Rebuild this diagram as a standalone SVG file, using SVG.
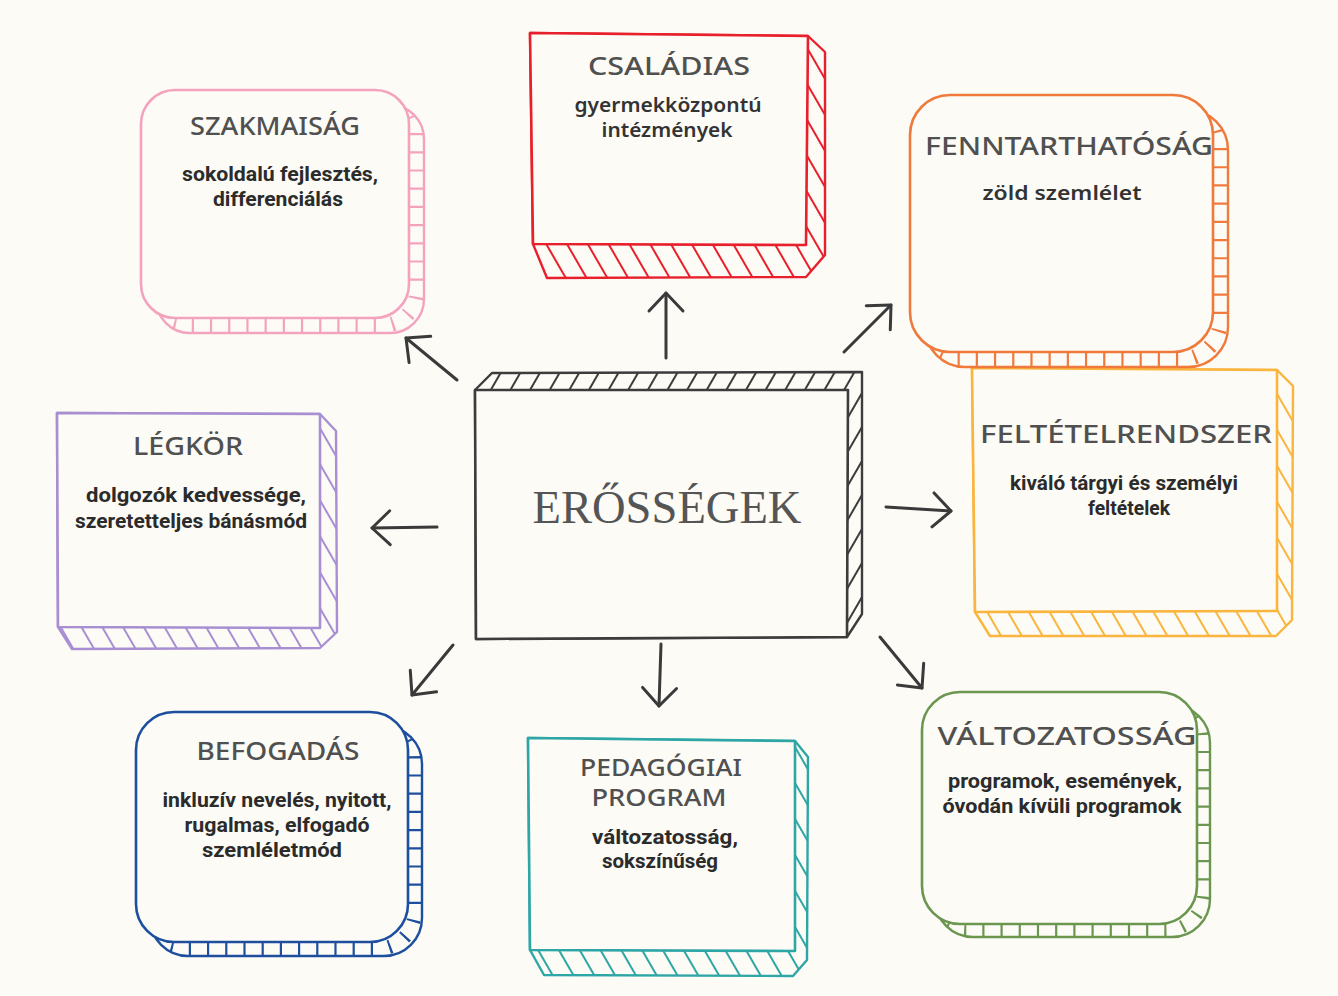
<svg xmlns="http://www.w3.org/2000/svg" width="1338" height="996" viewBox="0 0 1338 996">
<style>
.title{font-family:'Noto Sans','DejaVu Sans',sans-serif;font-weight:500;fill:#505050;font-size:26px;text-anchor:middle}
.title2{font-size:23px}
.sub{font-family:Roboto,'Liberation Sans',sans-serif;font-weight:700;fill:#2b2b2b;font-size:20px;text-anchor:middle}
.subr{font-family:'Noto Sans','DejaVu Sans',sans-serif;font-weight:600;fill:#333;font-size:19px;text-anchor:middle}
.face{fill:#fcfbf6;stroke-width:2.6;stroke-linejoin:round}
.back{fill:#fcfbf6;stroke-width:2.4;stroke-linejoin:round}
.rung{fill:none;stroke-dasharray:2.2 16}
.side{stroke-width:2.4;stroke-linejoin:round}
.arrow{fill:none;stroke:#3a3a3a;stroke-width:3;stroke-linecap:round;marker-end:url(#ah)}
.center{font-family:'Liberation Serif','Times New Roman',serif;font-size:46px;fill:#555;text-anchor:middle}
</style>
<defs>
<marker id="ah" viewBox="-22 -20 26 40" markerWidth="26" markerHeight="40" refX="0" refY="0" orient="auto" markerUnits="userSpaceOnUse">
<path d="M-18,-17 L0,0 L-18,17" fill="none" stroke="#3a3a3a" stroke-width="3" stroke-linecap="round" stroke-linejoin="round"/>
</marker>
<pattern id="hRed" patternUnits="userSpaceOnUse" width="18" height="18" patternTransform="rotate(-30)"><line x1="9" y1="-1" x2="9" y2="19" stroke="#e8202c" stroke-width="2"/></pattern>
<pattern id="hPurple" patternUnits="userSpaceOnUse" width="18" height="18" patternTransform="rotate(-30)"><line x1="9" y1="-1" x2="9" y2="19" stroke="#a88fd2" stroke-width="2"/></pattern>
<pattern id="hYellow" patternUnits="userSpaceOnUse" width="18" height="18" patternTransform="rotate(-30)"><line x1="9" y1="-1" x2="9" y2="19" stroke="#f9b53d" stroke-width="2"/></pattern>
<pattern id="hTeal" patternUnits="userSpaceOnUse" width="18" height="18" patternTransform="rotate(-30)"><line x1="9" y1="-1" x2="9" y2="19" stroke="#2fa6a6" stroke-width="2"/></pattern>
<pattern id="hDark" patternUnits="userSpaceOnUse" width="17" height="17" patternTransform="rotate(30)"><line x1="8" y1="-1" x2="8" y2="18" stroke="#3c3c3c" stroke-width="2"/></pattern>
<clipPath id="cPink"><rect x="156" y="105" width="268" height="228" rx="34"/><rect x="141" y="90" width="268" height="228" rx="34"/></clipPath>
<clipPath id="cOrange"><rect x="925" y="110" width="303" height="257" rx="40"/><rect x="910" y="95" width="303" height="257" rx="40"/></clipPath>
<clipPath id="cBlue"><rect x="150" y="726" width="272" height="230" rx="38"/><rect x="136" y="712" width="272" height="230" rx="38"/></clipPath>
<clipPath id="cGreen"><rect x="935" y="705" width="275" height="232" rx="38"/><rect x="922" y="692" width="275" height="232" rx="38"/></clipPath>
</defs>
<rect width="1338" height="996" fill="#fcfbf6"/>

<g id="connectors">
<path class="arrow" d="M666,358 L666,293"/>
<path class="arrow" d="M844,352 L891,305"/>
<path class="arrow" d="M457,380 L406,338"/>
<path class="arrow" d="M886,507 L951,511"/>
<path class="arrow" d="M437,527 L372,528"/>
<path class="arrow" d="M453,645 L412,695"/>
<path class="arrow" d="M661,644 L659,706"/>
<path class="arrow" d="M880,637 L922,688"/>
</g>

<g id="node-szakmaisag" stroke="#f4a3bf">
<rect class="back" x="156" y="105" width="268" height="228" rx="34"/>
<rect class="rung" x="148.5" y="97.5" width="268" height="228" rx="34" stroke-width="15" clip-path="url(#cPink)"/>
<rect class="face" x="141" y="90" width="268" height="228" rx="34"/>
<text class="title" x="275" y="135" textLength="170" lengthAdjust="spacingAndGlyphs" stroke="none">SZAKMAISÁG</text>
<text class="sub" x="280" y="181" textLength="196" lengthAdjust="spacingAndGlyphs" stroke="none">sokoldalú fejlesztés,</text>
<text class="sub" x="278" y="206" textLength="130" lengthAdjust="spacingAndGlyphs" stroke="none">differenciálás</text>
</g>

<g id="node-csaladias" stroke="#e8202c">
<path class="side" fill="url(#hRed)" d="M530,33 L808,36 L825,52 L825,255 L806,277 L547,278 L533,244 Z"/>
<path class="face" d="M530,33 L808,36 L806,245 L533,244 Z"/>
<text class="title" x="669" y="75" textLength="162" lengthAdjust="spacingAndGlyphs" stroke="none">CSALÁDIAS</text>
<text class="subr" x="668" y="112" textLength="187" lengthAdjust="spacingAndGlyphs" stroke="none">gyermekközpontú</text>
<text class="subr" x="667" y="137" textLength="131" lengthAdjust="spacingAndGlyphs" stroke="none">intézmények</text>
</g>

<g id="node-feltetelrendszer" stroke="#f9b53d">
<path class="side" fill="url(#hYellow)" d="M972,368 L1277,370 L1293,386 L1292,620 L1276,636 L990,636 L975,612 Z"/>
<path class="face" d="M972,368 L1277,370 L1277,611 L975,612 Z"/>
<text class="title" x="1126" y="443" textLength="292" lengthAdjust="spacingAndGlyphs" stroke="none">FELTÉTELRENDSZER</text>
<text class="sub" x="1124" y="490" textLength="228" lengthAdjust="spacingAndGlyphs" stroke="none">kiváló tárgyi és személyi</text>
<text class="sub" x="1129" y="515" textLength="82" lengthAdjust="spacingAndGlyphs" stroke="none">feltételek</text>
</g>

<g id="node-fenntarthatosag" stroke="#ef7a3c">
<rect class="back" x="925" y="110" width="303" height="257" rx="40"/>
<rect class="rung" x="917.5" y="102.5" width="303" height="257" rx="40" stroke-width="15" clip-path="url(#cOrange)"/>
<rect class="face" x="910" y="95" width="303" height="257" rx="40"/>
<text class="title" x="1069" y="155" textLength="288" lengthAdjust="spacingAndGlyphs" stroke="none">FENNTARTHATÓSÁG</text>
<text class="subr" x="1062" y="200" textLength="159" lengthAdjust="spacingAndGlyphs" stroke="none">zöld szemlélet</text>
</g>

<g id="node-legkor" stroke="#a88fd2">
<path class="side" fill="url(#hPurple)" d="M57,413 L320,414 L336,431 L337,632 L320,648 L72,649 L58,627 Z"/>
<path class="face" d="M57,413 L320,414 L320,628 L58,627 Z"/>
<text class="title" x="188" y="455" textLength="110" lengthAdjust="spacingAndGlyphs" stroke="none">LÉGKÖR</text>
<text class="sub" x="196" y="502" textLength="220" lengthAdjust="spacingAndGlyphs" stroke="none">dolgozók kedvessége,</text>
<text class="sub" x="191" y="528" textLength="232" lengthAdjust="spacingAndGlyphs" stroke="none">szeretetteljes bánásmód</text>
</g>

<g id="node-erossegek" stroke="#3c3c3c">
<path class="side" fill="url(#hDark)" d="M475,390 L492,373 L862,372 L862,614 L847,637 L476,639 Z"/>
<path class="face" d="M475,390 L848,390 L847,637 L476,639 Z"/>
<text class="center" x="667" y="523" textLength="269" lengthAdjust="spacingAndGlyphs" stroke="none">ERŐSSÉGEK</text>
</g>

<g id="node-befogadas" stroke="#1d4f9e">
<rect class="back" x="150" y="726" width="272" height="230" rx="38"/>
<rect class="rung" x="143" y="719" width="272" height="230" rx="38" stroke-width="14" clip-path="url(#cBlue)"/>
<rect class="face" x="136" y="712" width="272" height="230" rx="38"/>
<text class="title" x="278" y="760" textLength="163" lengthAdjust="spacingAndGlyphs" stroke="none">BEFOGADÁS</text>
<text class="sub" x="277" y="807" textLength="229" lengthAdjust="spacingAndGlyphs" stroke="none">inkluzív nevelés, nyitott,</text>
<text class="sub" x="277" y="832" textLength="185" lengthAdjust="spacingAndGlyphs" stroke="none">rugalmas, elfogadó</text>
<text class="sub" x="272" y="857" textLength="140" lengthAdjust="spacingAndGlyphs" stroke="none">szemléletmód</text>
</g>

<g id="node-pedagogiai" stroke="#2fa6a6">
<path class="side" fill="url(#hTeal)" d="M528,738 L795,741 L808,757 L807,960 L793,976 L544,975 L530,950 Z"/>
<path class="face" d="M528,738 L795,741 L795,951 L530,950 Z"/>
<text class="title title2" x="661" y="776" textLength="162" lengthAdjust="spacingAndGlyphs" stroke="none">PEDAGÓGIAI</text>
<text class="title title2" x="659" y="806" textLength="135" lengthAdjust="spacingAndGlyphs" stroke="none">PROGRAM</text>
<text class="sub" x="665" y="844" textLength="146" lengthAdjust="spacingAndGlyphs" stroke="none">változatosság,</text>
<text class="sub" x="660" y="868" textLength="116" lengthAdjust="spacingAndGlyphs" stroke="none">sokszínűség</text>
</g>

<g id="node-valtozatossag" stroke="#6b9650">
<rect class="back" x="935" y="705" width="275" height="232" rx="38"/>
<rect class="rung" x="928.5" y="698.5" width="275" height="232" rx="38" stroke-width="13" clip-path="url(#cGreen)"/>
<rect class="face" x="922" y="692" width="275" height="232" rx="38"/>
<text class="title" x="1067" y="745" textLength="259" lengthAdjust="spacingAndGlyphs" stroke="none">VÁLTOZATOSSÁG</text>
<text class="sub" x="1065" y="788" textLength="234" lengthAdjust="spacingAndGlyphs" stroke="none">programok, események,</text>
<text class="sub" x="1062" y="813" textLength="239" lengthAdjust="spacingAndGlyphs" stroke="none">óvodán kívüli programok</text>
</g>
</svg>
